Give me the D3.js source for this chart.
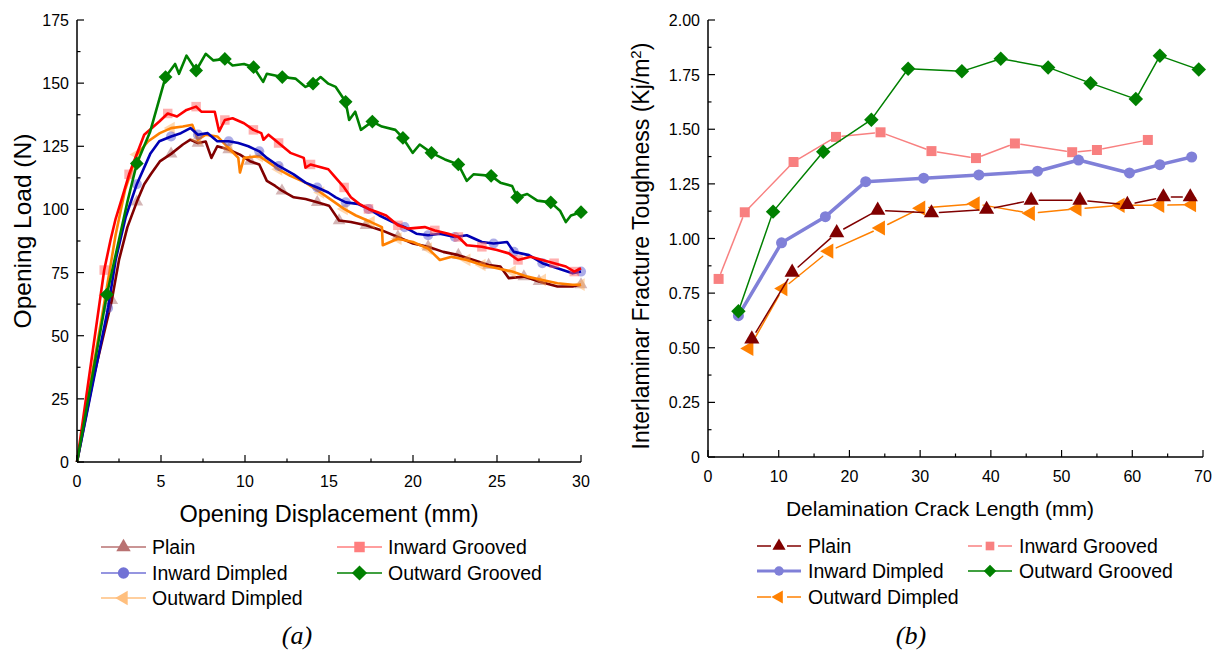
<!DOCTYPE html>
<html>
<head>
<meta charset="utf-8">
<script src="https://cdn.jsdelivr.net/npm/d3@7"></script>
<style>
  body { margin: 0; background: #fff; }
  text { font-family: "Liberation Sans", Arial, sans-serif; fill: #000; }
</style>
</head>
<body>
<svg id="chart" width="1221" height="655"></svg>
<script>
// ---- (a) load-displacement curves [mm, N] ----
const curvePlain = [[0,0],[1.0,34],[2.07,64],[2.5,80],[3.0,93],[3.56,103],[4.0,110],[4.4,114],[4.93,119],[5.6,122],[6.3,125.7],[6.75,127.6],[7.2,126.3],[7.66,126.9],[8.0,120.4],[8.35,125],[9.03,123.7],[9.7,121.7],[10.3,119.1],[10.85,117.8],[11.3,111.3],[11.8,109.3],[12.2,107.4],[12.9,104.8],[13.6,104.1],[14.3,102.8],[15.0,101.5],[15.6,95.6],[16.3,95],[17.2,93.7],[18.15,91.7],[19.1,89.1],[20.0,86.5],[20.9,85.2],[21.8,83.2],[22.7,81.9],[23.6,80],[24.5,78],[25.2,77.4],[25.7,72.8],[26.6,73.4],[27.5,71.5],[28.6,69.5],[29.5,69.5],[30,70.2]];
const curveInGroove = [[0,0],[1.62,76],[2.0,88],[2.3,96.3],[2.7,105],[3.1,113.9],[4.0,129.6],[4.9,134.8],[5.4,138],[5.95,136.8],[6.52,139.4],[7.09,140.7],[7.4,138.7],[8.2,138.7],[8.46,130.9],[8.8,135.4],[9.26,136.1],[9.94,134.1],[10.5,131.5],[10.97,130.2],[11.1,127.6],[11.4,129.6],[12.0,126.3],[12.7,122.4],[13.5,120.4],[13.6,116.5],[13.9,117.8],[14.96,115.9],[15.3,113.3],[15.9,108.7],[16.3,104.8],[16.8,102.2],[17.35,100.2],[17.9,98.9],[18.4,97.6],[19.1,93.7],[19.7,92.4],[20.7,93],[21.3,91.7],[22.1,90.4],[22.7,89.1],[23.2,85.8],[24.1,85.2],[25.0,83.9],[25.7,82.6],[26.25,80],[27.0,81.3],[27.7,80],[28.4,78.7],[29.1,77.4],[29.6,75.4],[30,76.7]];
const curveInDimple = [[0,0],[1.85,61],[2.3,80],[2.9,97],[3.56,110],[4.36,122],[4.9,127],[5.6,128.9],[6.18,130.2],[6.75,132.2],[7.2,129.6],[7.78,130.2],[8.35,127],[9.03,127],[9.6,126.3],[10.2,125],[10.85,123],[11.3,120.4],[12.0,117.2],[12.9,113.9],[13.6,110.6],[14.3,108.7],[14.96,106.7],[15.4,104.8],[16.0,102.8],[16.7,102.2],[17.35,100.2],[18.0,97.6],[18.8,95],[19.5,93],[20.2,90.4],[20.9,89.8],[21.6,90.4],[22.5,89.1],[23.2,89.8],[24.1,87.1],[24.8,86.5],[25.6,87.1],[26.0,83.2],[26.9,81.9],[27.7,78.7],[28.6,76.7],[29.5,74.7],[30,75.4]];
const curveOutGroove = [[0,0],[1.78,66.3],[2.5,88],[3.0,103],[3.56,118.2],[4.36,130.9],[5.27,152.4],[5.84,157.6],[6.07,153.7],[6.52,160.9],[7.09,155],[7.66,161.6],[8.12,159],[8.8,159.6],[9.26,157],[9.94,157.6],[10.51,156.3],[11.08,150.5],[11.3,153.7],[12.22,152.4],[13.0,151.8],[13.6,148.5],[14.05,149.8],[14.5,152.4],[14.96,149.8],[15.4,148.5],[15.99,142.6],[16.2,135.4],[16.56,138.7],[16.9,131.5],[17.58,134.8],[18.15,132.8],[18.95,131.5],[19.4,128.3],[19.98,122.4],[20.4,125.7],[21.1,122.4],[21.9,119.8],[22.7,117.8],[23.2,111.3],[23.6,113.9],[24.65,113.3],[25.2,110.6],[25.9,109.3],[26.2,104.8],[26.8,106.1],[27.4,103.5],[28.2,102.8],[28.75,99.5],[29.1,95],[29.4,97.6],[30,98.9]];
const curveOutDimple = [[0,0],[1.7,66],[2.3,90],[2.87,108],[3.56,121.7],[4.24,127],[4.93,130.2],[5.6,132.2],[6.3,132.8],[6.86,133.5],[7.2,127.6],[7.66,129.6],[8.35,128.9],[9.03,124.3],[9.6,120.4],[9.7,114.6],[9.94,120.4],[10.85,121.1],[11.3,119.1],[12.0,115.9],[12.7,113.3],[13.6,110.6],[14.5,106.7],[15.2,103.5],[15.9,100.2],[16.6,97.6],[17.5,95],[18.15,93],[18.2,85.8],[19.1,88.4],[20.0,87.1],[20.9,84.5],[21.6,80],[22.3,81.3],[23.2,80],[24.1,78],[25.0,76.7],[25.9,75.4],[26.8,73.4],[27.7,72.1],[28.6,70.8],[29.5,70.2],[30,70.2]];
// symbol positions along the curves (mm)
const symbolX = [1.75, 3.5, 5.3, 7.05, 8.8, 10.55, 12.3, 14.05, 15.8, 17.55, 19.3, 21.05, 22.8, 24.55, 26.3, 28.05, 29.8];

// ---- (b) fracture toughness vs crack length ----
const crackPlain = [6.2, 11.9, 18.2, 24.0, 31.6, 39.4, 45.7, 52.6, 59.3, 64.4, 68.2];
const gPlain = [0.54, 0.845, 1.026, 1.129, 1.117, 1.133, 1.175, 1.175, 1.155, 1.19, 1.19];
const crackInGroove = [1.5, 5.2, 12.1, 18.1, 24.4, 31.6, 37.9, 43.4, 51.5, 55.0, 62.2];
const gInGroove = [0.815, 1.12, 1.35, 1.465, 1.486, 1.40, 1.368, 1.435, 1.395, 1.405, 1.451];
const crackInDimple = [4.3, 10.4, 16.6, 22.3, 30.5, 38.3, 46.6, 52.4, 59.6, 63.9, 68.4];
const gInDimple = [0.647, 0.98, 1.10, 1.26, 1.276, 1.291, 1.308, 1.359, 1.30, 1.338, 1.373];
const crackOutGroove = [4.3, 9.2, 16.3, 23.1, 28.3, 35.9, 41.4, 48.1, 54.1, 60.5, 63.9, 69.4];
const gOutGroove = [0.667, 1.123, 1.397, 1.544, 1.777, 1.765, 1.823, 1.783, 1.711, 1.638, 1.836, 1.773];
const crackOutDimple = [5.8, 10.6, 17.1, 24.4, 30.1, 37.8, 45.6, 52.2, 58.3, 63.9, 68.4];
const gOutDimple = [0.497, 0.771, 0.942, 1.048, 1.139, 1.159, 1.115, 1.136, 1.152, 1.152, 1.155];

const seriesNames = ["Plain", "Inward Grooved", "Inward Dimpled", "Outward Grooved", "Outward Dimpled"];

const svg = d3.select("#chart");
svg.append("rect").attr("width", 1221).attr("height", 655).attr("fill", "#fff");

function symbolPath(kind, size) {
  if (kind === "tri") return d3.symbol(d3.symbolTriangle, size)();
  if (kind === "square") return d3.symbol(d3.symbolSquare, size)();
  if (kind === "circle") return d3.symbol(d3.symbolCircle, size)();
  if (kind === "diamond") return d3.symbol(d3.symbolSquare, size)();
  if (kind === "left") return d3.symbol(d3.symbolTriangle, size)();
}
function symbolRot(kind) {
  return kind === "diamond" ? 45 : kind === "left" ? -90 : 0;
}

function drawAxes(g, x, y, w, h, xTicks, xMinor, yTicks, yMinor, yFmt) {
  const ax = g.append("g");
  ax.append("line").attr("x1", 0).attr("x2", w).attr("y1", h).attr("y2", h)
    .attr("stroke", "#000").attr("stroke-width", 1.5);
  ax.append("line").attr("x1", 0).attr("x2", 0).attr("y1", 0).attr("y2", h)
    .attr("stroke", "#000").attr("stroke-width", 1.5);
  xMinor.forEach(v => ax.append("line").attr("x1", x(v)).attr("x2", x(v)).attr("y1", h).attr("y2", h - 3.5).attr("stroke", "#000").attr("stroke-width", 1.2));
  xTicks.forEach(v => {
    ax.append("line").attr("x1", x(v)).attr("x2", x(v)).attr("y1", h).attr("y2", h - 7).attr("stroke", "#000").attr("stroke-width", 1.2);
    ax.append("text").attr("x", x(v)).attr("y", h + 25).attr("text-anchor", "middle")
      .style("font-size", "16px").text(v);
  });
  yMinor.forEach(v => ax.append("line").attr("x1", 0).attr("x2", 3.5).attr("y1", y(v)).attr("y2", y(v)).attr("stroke", "#000").attr("stroke-width", 1.2));
  yTicks.forEach(v => {
    ax.append("line").attr("x1", 0).attr("x2", 7).attr("y1", y(v)).attr("y2", y(v)).attr("stroke", "#000").attr("stroke-width", 1.2);
    ax.append("text").attr("x", -8).attr("y", y(v) + 6).attr("text-anchor", "end")
      .style("font-size", "16px").text(yFmt(v));
  });
}

// ================= chart (a) =================
{
  const left = 77, top = 20, w = 504, h = 442;
  const g = svg.append("g").attr("transform", `translate(${left},${top})`);
  const x = d3.scaleLinear().domain([0, 30]).range([0, w]);
  const y = d3.scaleLinear().domain([0, 175]).range([h, 0]);

  const styles = [
    { data: curvePlain, color: "#800000", sym: "tri", size: 70, fill: "#a05a5a", op: 0.45 },
    { data: curveInGroove, color: "#ff0000", sym: "square", size: 90, fill: "#ff6060", op: 0.5 },
    { data: curveInDimple, color: "#0000b4", sym: "circle", size: 80, fill: "#5a5ad0", op: 0.5 },
    { data: curveOutGroove, color: "#008000", sym: "diamond", size: 95, fill: "#008000", op: 1 },
    { data: curveOutDimple, color: "#ff8000", sym: "left", size: 70, fill: "#ffa850", op: 0.45 }
  ];
  const drawOrder = [0, 4, 2, 1, 3];
  const line = d3.line().x(d => x(d[0])).y(d => y(d[1]));
  drawOrder.forEach(i => {
    const s = styles[i];
    const pts = symbolX.map(sx => d3.least(s.data, d => Math.abs(d[0] - sx)));
    const marks = g.append("g");
    g.append("path").datum(s.data).attr("d", line).attr("fill", "none")
      .attr("stroke", s.color).attr("stroke-width", 2.6).attr("stroke-linejoin", "round");
    // green symbols sit on top of its line, faded symbols sit under theirs
    const target = s.op === 1 ? g : marks;
    target.selectAll(null).data(pts).enter().append("path")
      .attr("d", symbolPath(s.sym, s.size))
      .attr("transform", d => `translate(${x(d[0])},${y(d[1])}) rotate(${symbolRot(s.sym)})`)
      .attr("fill", s.fill).attr("fill-opacity", s.op);
  });

  drawAxes(g, x, y, w, h, d3.range(0, 31, 5), d3.range(2.5, 30, 5), d3.range(0, 176, 25), d3.range(12.5, 175, 25), v => v);

  g.append("text").attr("x", w / 2).attr("y", h + 60).attr("text-anchor", "middle")
    .style("font-size", "23.5px").text("Opening Displacement (mm)");
  g.append("text").attr("transform", `translate(-46,211) rotate(-90)`).attr("text-anchor", "middle")
    .style("font-size", "24.5px").text("Opening Load (N)");

  // legend
  const legPos = [[101, 547], [337, 547], [101, 573], [337, 573], [101, 598]];
  const legOp = [0.55, 0.5, 0.55, 1, 0.5];
  styles.forEach((s, i) => {
    const [lx, ly] = legPos[i];
    const lg = svg.append("g").attr("transform", `translate(${lx},${ly})`).attr("opacity", legOp[i]);
    lg.append("line").attr("x1", 0).attr("x2", 45).attr("stroke", s.color).attr("stroke-width", 1.5);
    lg.append("path").attr("d", symbolPath(s.sym, s.size + 20))
      .attr("transform", `translate(22.5,0) rotate(${symbolRot(s.sym)})`).attr("fill", s.color);
    svg.append("text").attr("x", lx + 51).attr("y", ly + 7).style("font-size", "19.5px").text(seriesNames[i]);
  });
  svg.append("text").attr("x", 297).attr("y", 644).attr("text-anchor", "middle")
    .style("font-family", "'Liberation Serif', 'Times New Roman', serif").style("font-style", "italic")
    .style("font-size", "26px").text("(a)");
}

// ================= chart (b) =================
{
  const left = 708, top = 20, w = 495, h = 437;
  const g = svg.append("g").attr("transform", `translate(${left},${top})`);
  const x = d3.scaleLinear().domain([0, 70]).range([0, w]);
  const y = d3.scaleLinear().domain([0, 2]).range([h, 0]);

  const styles = [
    { xs: crackPlain, ys: gPlain, color: "#800000", sym: "tri", size: 100, lw: 1.5, gap: 3 },
    { xs: crackInGroove, ys: gInGroove, color: "#f88080", sym: "square", size: 100, lw: 1.5, gap: 1 },
    { xs: crackInDimple, ys: gInDimple, color: "#8080d8", sym: "circle", size: 95, lw: 3.5, gap: 0 },
    { xs: crackOutGroove, ys: gOutGroove, color: "#008000", sym: "diamond", size: 105, lw: 1.5, gap: 0 },
    { xs: crackOutDimple, ys: gOutDimple, color: "#ff8000", sym: "left", size: 100, lw: 1.5, gap: 3 }
  ];
  const drawOrder = [1, 2, 3, 4, 0];
  drawOrder.forEach(i => {
    const s = styles[i];
    const pts = s.xs.map((v, k) => [x(v), y(s.ys[k])]);
    const r = Math.sqrt(s.size) / 2 + s.gap;
    d3.pairs(pts).forEach(([a, b]) => {
      const dx = b[0] - a[0], dy = b[1] - a[1], len = Math.hypot(dx, dy);
      const c = s.gap ? r / len : 0;
      if (len <= 2 * r && s.gap) return;
      g.append("line")
        .attr("x1", a[0] + dx * c).attr("y1", a[1] + dy * c)
        .attr("x2", b[0] - dx * c).attr("y2", b[1] - dy * c)
        .attr("stroke", s.color).attr("stroke-width", s.lw).attr("stroke-linecap", "round");
    });
    g.selectAll(null).data(pts).enter().append("path")
      .attr("d", symbolPath(s.sym, s.size))
      .attr("transform", d => `translate(${d[0]},${d[1]}) rotate(${symbolRot(s.sym)})`)
      .attr("fill", s.color);
  });

  drawAxes(g, x, y, w, h, d3.range(0, 71, 10), d3.range(5, 70, 10), d3.range(0, 2.01, 0.25), d3.range(0.125, 2, 0.25), v => v === 0 ? "0" : d3.format(".2f")(v));

  g.append("text").attr("x", 232).attr("y", h + 59).attr("text-anchor", "middle")
    .style("font-size", "21px").text("Delamination Crack Length (mm)");
  const yt = g.append("text").attr("transform", `translate(-59,226) rotate(-90)`).attr("text-anchor", "middle")
    .style("font-size", "23px");
  yt.append("tspan").text("Interlaminar Fracture Toughness (Kj/m");
  yt.append("tspan").attr("baseline-shift", "super").style("font-size", "15px").text("2");
  yt.append("tspan").text(")");

  // legend
  const legPos = [[757, 546], [968, 546], [757, 571], [968, 571], [757, 597]];
  styles.forEach((s, i) => {
    const [lx, ly] = legPos[i];
    const lg = svg.append("g").attr("transform", `translate(${lx},${ly})`);
    const gp = s.gap ? 8 : 0;
    lg.append("line").attr("x1", 0).attr("x2", 22 - gp).attr("stroke", s.color).attr("stroke-width", s.lw === 1.5 ? 1.5 : 3);
    lg.append("line").attr("x1", 22 + gp).attr("x2", 44).attr("stroke", s.color).attr("stroke-width", s.lw === 1.5 ? 1.5 : 3);
    lg.append("path").attr("d", symbolPath(s.sym, s.size * 0.75))
      .attr("transform", `translate(22,0) rotate(${symbolRot(s.sym)})`).attr("fill", s.color);
    svg.append("text").attr("x", lx + 51).attr("y", ly + 7).style("font-size", "19.5px").text(seriesNames[i]);
  });
  svg.append("text").attr("x", 911).attr("y", 644).attr("text-anchor", "middle")
    .style("font-family", "'Liberation Serif', 'Times New Roman', serif").style("font-style", "italic")
    .style("font-size", "26px").text("(b)");
}
</script>
</body>
</html>
